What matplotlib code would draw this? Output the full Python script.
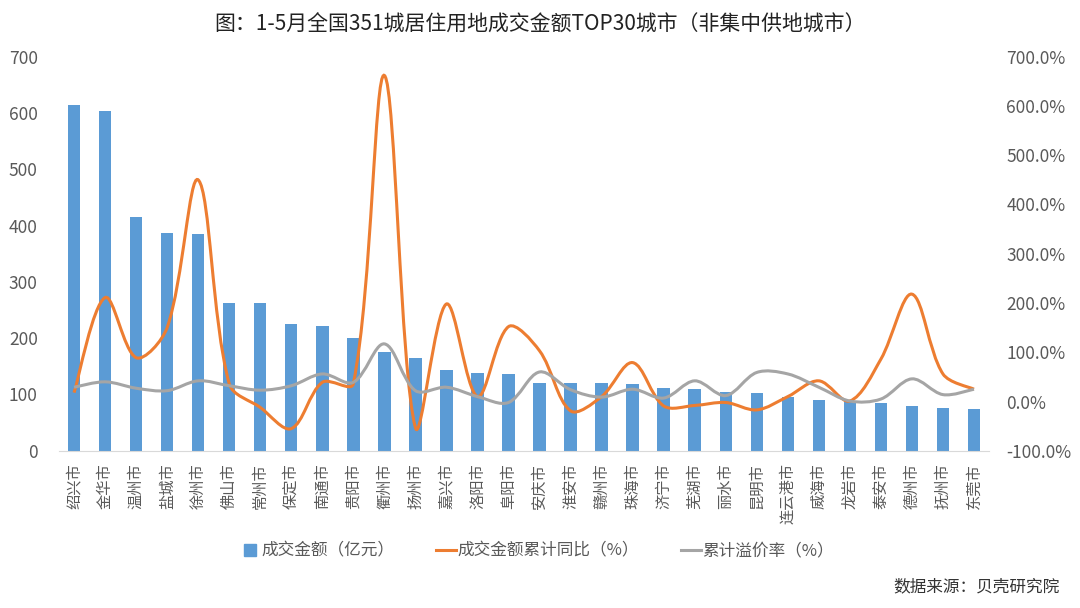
import numpy as np
import matplotlib
matplotlib.use("Agg")
import matplotlib.pyplot as plt
from matplotlib.path import Path
from matplotlib.patches import PathPatch
from matplotlib.lines import Line2D
from matplotlib.ticker import MultipleLocator, FuncFormatter

plt.rcParams['font.family'] = ['Noto Sans CJK SC', 'DejaVu Sans']

# 数据
cities = ['绍兴市', '金华市', '温州市', '盐城市', '徐州市', '佛山市', '常州市', '保定市', '南通市', '贵阳市',
          '衢州市', '扬州市', '嘉兴市', '洛阳市', '阜阳市', '安庆市', '淮安市', '赣州市', '珠海市', '济宁市',
          '芜湖市', '丽水市', '昆明市', '连云港市', '威海市', '龙岩市', '泰安市', '德州市', '抚州市', '东莞市']
amount = [614, 603, 415, 387, 385, 262, 262, 225, 221, 200,
          176, 165, 144, 138, 136, 121, 121, 120, 118, 112,
          109, 105, 102, 95, 90, 88, 84, 80, 76, 75]
yoy = [18, 211, 89, 150, 450, 36, -12, -55, 39, 36,
       662, -53, 198, 10, 152, 103, -19, 10, 79, -9,
       -8, -2, -17, 10, 42, 1, 86, 218, 56, 25]
premium = [29, 40, 27, 22, 42, 32, 23, 32, 56, 39,
           117, 22, 29, 10, -2, 60, 24, 9, 25, 7,
           42, 12, 59, 56, 29, 1, 5, 46, 14, 25]

c_bar = '#5B9BD5'
c_yoy = '#ED7D31'
c_prem = '#A5A5A5'
c_txt = '#595959'


def smooth_path(axis, xs, ys, k=1/3):
    # 类似Excel平滑线：在像素坐标里按相邻线段长度分配切线
    tr = axis.transData
    pts = tr.transform(np.column_stack([xs, ys]).astype(float))
    n = len(pts)
    c_in = [None] * n
    c_out = [None] * n
    for i in range(n):
        if i == 0:
            t = pts[1] - pts[0]
            c_out[i] = pts[i] + t * 0.5 * k
        elif i == n - 1:
            t = pts[i] - pts[i - 1]
            c_in[i] = pts[i] - t * 0.5 * k
        else:
            t = pts[i + 1] - pts[i - 1]
            d1 = np.hypot(*(pts[i] - pts[i - 1]))
            d2 = np.hypot(*(pts[i + 1] - pts[i]))
            c_in[i] = pts[i] - t * d1 / (d1 + d2) * k
            c_out[i] = pts[i] + t * d2 / (d1 + d2) * k
    verts = [pts[0]]
    codes = [Path.MOVETO]
    for i in range(n - 1):
        verts += [c_out[i], c_in[i + 1], pts[i + 1]]
        codes += [Path.CURVE4] * 3
    verts = tr.inverted().transform(np.array(verts))
    return Path(verts, codes)


fig = plt.figure(figsize=(10.8, 6.08), dpi=100)
ax = fig.add_axes([0.0542, 0.2586, 0.862, 0.6481])
x = np.arange(len(cities))

ax.bar(x, amount, width=0.4, color=c_bar, zorder=2)
ax.set_xlim(-0.5, len(cities) - 0.5)
ax.set_ylim(0, 700)
ax.yaxis.set_major_locator(MultipleLocator(100))
ax.set_xticks(x)
ax.set_xticklabels(cities, rotation=90, fontsize=11, color=c_txt, va='top')
ax.tick_params(axis='both', length=0)
ax.tick_params(axis='y', labelsize=12.5, labelcolor=c_txt, pad=15)
ax.tick_params(axis='x', pad=9)
for s in ['top', 'right', 'left']:
    ax.spines[s].set_visible(False)
ax.spines['bottom'].set_color('#D9D9D9')

ax2 = ax.twinx()
ax2.set_xlim(-0.5, len(cities) - 0.5)
ax2.set_ylim(-100, 700)
ax2.yaxis.set_major_locator(MultipleLocator(100))
ax2.yaxis.set_major_formatter(FuncFormatter(lambda v, p: f'{v:.1f}%'))
ax2.tick_params(axis='y', length=0, labelsize=12.5, labelcolor=c_txt, pad=12)
for s in ax2.spines.values():
    s.set_visible(False)

ax2.add_patch(PathPatch(smooth_path(ax2, x, yoy), fill=False, edgecolor=c_yoy, lw=2.2, zorder=3))
ax2.add_patch(PathPatch(smooth_path(ax2, x, premium), fill=False, edgecolor=c_prem, lw=2.2, zorder=3))

fig.text(0.5, 0.96, '图：1-5月全国351城居住用地成交金额TOP30城市（非集中供地城市）',
         ha='center', va='center', fontsize=15, color='#222222')

handles = [Line2D([], [], marker='s', linestyle='none', markersize=9, color=c_bar),
           Line2D([], [], color=c_yoy, lw=2.2),
           Line2D([], [], color=c_prem, lw=2.2)]
labels = ['成交金额（亿元）', '成交金额累计同比（%）', '累计溢价率（%）']
fig.legend(handles, labels, loc='center', bbox_to_anchor=(0.497, 0.094), ncol=3, frameon=False,
           fontsize=12, labelcolor=c_txt, handlelength=1.2, handletextpad=0.1, columnspacing=2.5)

fig.text(0.981, 0.035, '数据来源：贝壳研究院', ha='right', va='center', fontsize=12, color='#333333')

fig.savefig('out.png', dpi=100, facecolor='white')
